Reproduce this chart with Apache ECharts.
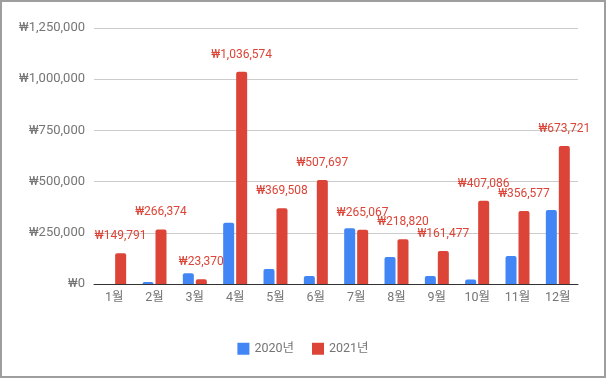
<!DOCTYPE html>
<html>
<head>
<meta charset="utf-8">
<script src="https://cdn.jsdelivr.net/npm/echarts@6/dist/echarts.min.js"></script>
<style>
  html, body { margin: 0; padding: 0; background: #fff; }
  #chart { width: 606px; height: 378px; box-sizing: border-box; border: 2px solid #9e9e9e; }
</style>
</head>
<body>
<div id="chart"></div>
<script>
// 월별 매출 비교 (2020년 vs 2021년)
const months = ['1월', '2월', '3월', '4월', '5월', '6월', '7월', '8월', '9월', '10월', '11월', '12월'];
const sales2020 = [0, 10000, 52000, 299000, 73000, 39000, 272000, 132000, 39000, 22000, 137000, 361000];
const sales2021 = [149791, 266374, 23370, 1036574, 369508, 507697, 265067, 218820, 161477, 407086, 356577, 673721];
const yTicks = [0, 250000, 500000, 750000, 1000000, 1250000];

const won = v => '₩' + v.toLocaleString('en-US');
const font = 'Roboto, "Noto Sans CJK KR", sans-serif';

const myChart = echarts.init(document.getElementById('chart'));
const option = {
    animation: false,
    textStyle: { fontFamily: font },
    grid: { left: 92, right: 26, top: 26, bottom: 92 },
    legend: {
        bottom: 16,
        itemWidth: 12,
        itemHeight: 12,
        itemGap: 18,
        icon: 'rect',
        textStyle: { color: '#757575', fontSize: 12.5, fontFamily: font },
        data: ['2020년', '2021년']
    },
    xAxis: {
        type: 'category',
        data: months,
        axisTick: { show: false },
        axisLine: { lineStyle: { color: '#333', width: 1 } },
        axisLabel: { color: '#757575', fontSize: 12.5, margin: 8 }
    },
    yAxis: {
        type: 'value',
        min: yTicks[0],
        max: yTicks[yTicks.length - 1],
        interval: 250000,
        splitLine: { lineStyle: { color: '#cccccc' } },
        axisLabel: { color: '#757575', fontSize: 13, margin: 9, formatter: won }
    },
    series: [
        {
            name: '2020년',
            type: 'bar',
            data: sales2020,
            barWidth: 11,
            barGap: '18%',
            itemStyle: { color: '#4285f4', borderRadius: [2, 2, 0, 0] }
        },
        {
            name: '2021년',
            type: 'bar',
            data: sales2021,
            barWidth: 11,
            itemStyle: { color: '#db4437', borderRadius: [2, 2, 0, 0] },
            label: {
                show: true,
                position: 'top',
                distance: 11,
                color: '#db4437',
                fontSize: 12,
                formatter: p => won(p.value)
            }
        }
    ]
};
myChart.setOption(option);
</script>
</body>
</html>
